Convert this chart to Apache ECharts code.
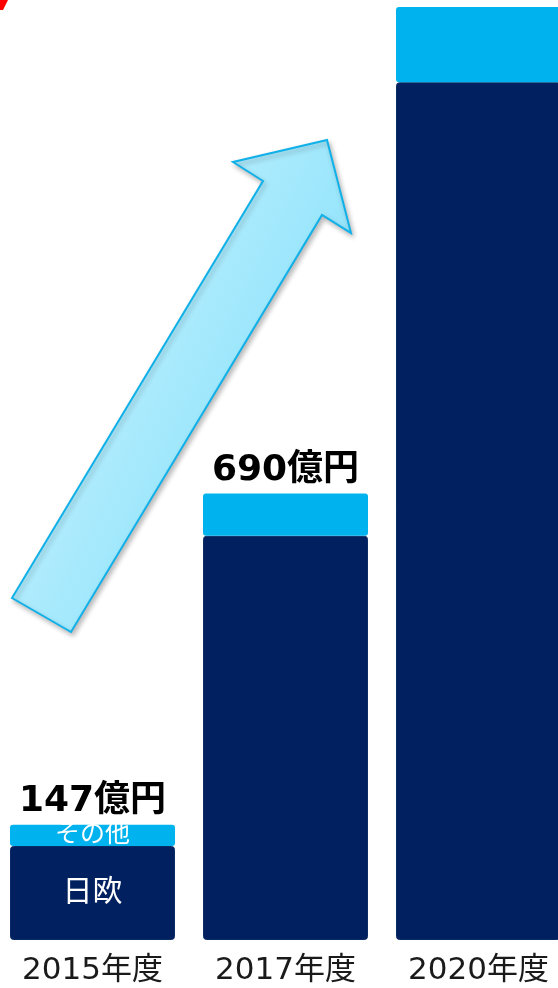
<!DOCTYPE html>
<html><head><meta charset="utf-8">
<script src="https://cdn.jsdelivr.net/npm/echarts@6/dist/echarts.min.js"></script>
<style>html,body{margin:0;padding:0;background:#fff}#c{width:558px;height:988px}</style>
</head><body><div id="c"></div>
<script>
var categories = ['2015年度', '2017年度', '2020年度'];
var nichiou = [120, 516, 1095];
var sonota = [27, 54, 96];
var totalLabels = ['147億円', '690億円', ''];
var innerLabelsDark = ['日欧', '', ''];
var innerLabelsLight = ['その他', '', ''];

var FONT = "'DejaVu Sans','Noto Sans CJK JP',sans-serif";
var chart = echarts.init(document.getElementById('c'));
chart.setOption({
  animation: false,
  backgroundColor: '#fff',
  grid: { left: -4, width: 579, top: 0, bottom: 48, containLabel: false, outerBoundsMode: 'none' },
  xAxis: {
    type: 'category', data: categories,
    axisLine: { show: false }, axisTick: { show: false },
    axisLabel: { fontFamily: FONT, fontSize: 31, color: '#1a1a1a', margin: 15 }
  },
  yAxis: { type: 'value', min: 0, max: 1200, show: false, splitLine: { show: false } },
  series: [
    {
      name: '日欧', type: 'bar', stack: 's', data: nichiou, barWidth: 165,
      itemStyle: { color: '#00205f', borderColor: '#0c2c66', borderWidth: 1, borderRadius: 3 },
      label: { show: true, position: 'inside', fontFamily: FONT, fontSize: 30, color: '#fff',
        formatter: function (p) { return innerLabelsDark[p.dataIndex]; } }
    },
    {
      name: 'その他', type: 'bar', stack: 's', data: sonota, barWidth: 165,
      itemStyle: { color: '#00b2ee', borderRadius: 3 },
      label: { show: true, position: 'inside', fontFamily: FONT, fontSize: 25, color: '#fff',
        formatter: function (p) { return innerLabelsLight[p.dataIndex]; } }
    },
    {
      name: 'total', type: 'bar', stack: 's', data: [0, 0, 0], barWidth: 165,
      itemStyle: { color: 'transparent' },
      label: { show: true, position: 'top', distance: 5, fontFamily: FONT, fontSize: 36, fontWeight: 'bold', color: '#000',
        formatter: function (p) { return totalLabels[p.dataIndex]; } }
    }
  ],
  graphic: [
    {
      type: 'polygon', z: 10,
      shape: { points: [[12, 598], [263, 181], [233, 162], [327, 140], [351, 233], [322, 215], [71, 632]] },
      style: {
        fill: new echarts.graphic.LinearGradient(0, 0, 1, 0.35, [
          { offset: 0, color: '#d8f6ff' }, { offset: 1, color: '#8ee3fb' }
        ]),
        stroke: '#10b0e8', lineWidth: 2,
        shadowBlur: 5, shadowColor: 'rgba(0,0,0,0.25)', shadowOffsetX: 2, shadowOffsetY: 3
      }
    },
    {
      type: 'polygon', z: 10,
      shape: { points: [[0, 0], [8, 0], [3, 10], [0, 10]] },
      style: { fill: '#ff0000' }
    }
  ]
});
</script></body></html>
